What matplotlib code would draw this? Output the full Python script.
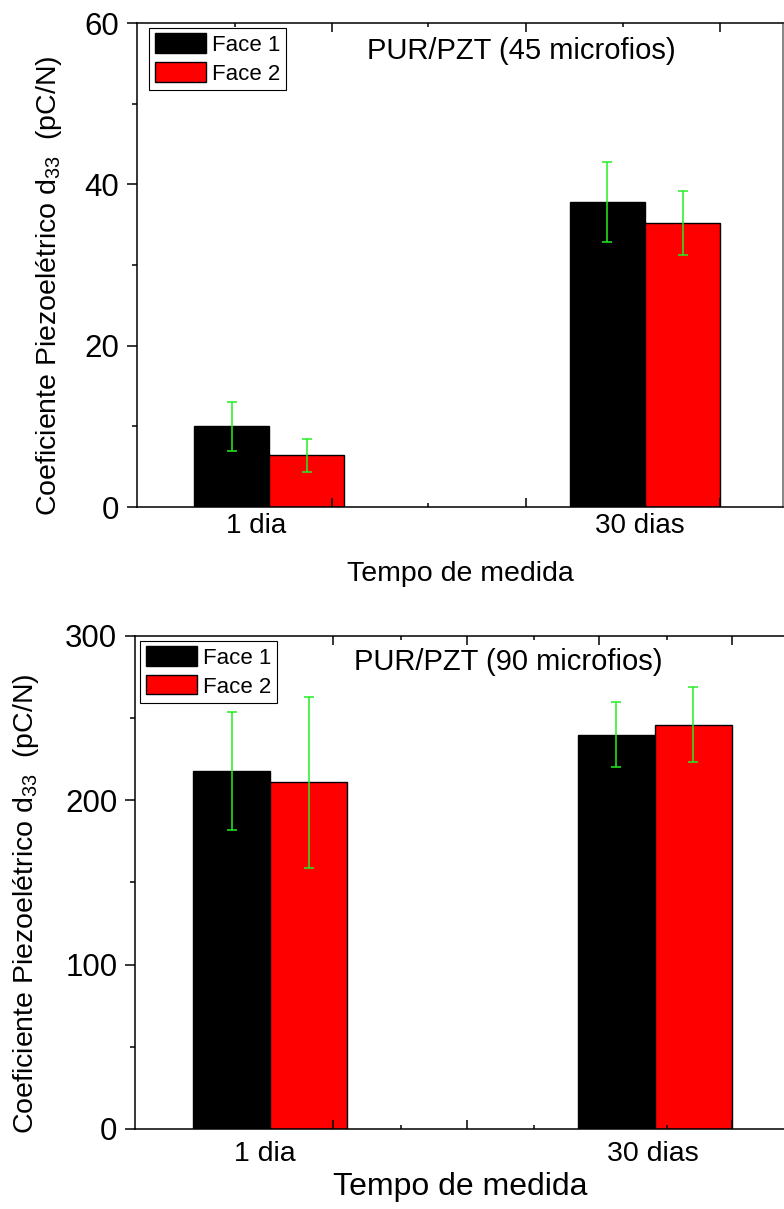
import matplotlib
matplotlib.use('Agg')
from matplotlib import pyplot as plt

plt.rcParams['font.family'] = ['Liberation Sans', 'DejaVu Sans']
plt.rcParams['mathtext.fontset'] = 'custom'
plt.rcParams['mathtext.rm'] = 'Liberation Sans'
plt.rcParams['mathtext.it'] = 'Liberation Sans:italic'

# d33 medido nas duas faces, 1 dia e 30 dias depois da polarizacao
tempos = ['1 dia', '30 dias']
series = ['Face 1', 'Face 2']

d33_45_face1 = [10.0, 37.8]
d33_45_face2 = [6.4, 35.2]
err_45_face1 = [3.0, 5.0]
err_45_face2 = [2.0, 4.0]

d33_90_face1 = [218.0, 240.0]
d33_90_face2 = [211.0, 246.0]
err_90_face1 = [36.0, 19.5]
err_90_face2 = [52.0, 23.0]

amostras = ['PUR/PZT (45 microfios)', 'PUR/PZT (90 microfios)']
ylabel = 'Coeficiente Piezoelétrico d$_{\\mathrm{33}}$  (pC/N)'
xlabel = 'Tempo de medida'

fig = plt.figure(figsize=(7.84, 12.09), dpi=100)
ax1 = fig.add_axes([0.1747, 0.5806, 0.8240, 0.4003])
ax2 = fig.add_axes([0.1722, 0.0662, 0.8290, 0.4078])

w = 0.2
pos = [1, 2]


def painel(ax, f1, f2, e1, e2, titulo, ymax, ystep, xlim, xmaj, xmin_, lab_x,
           lab_pad, lab_size, xl_size, title_xy, leg_xy, ylab_xy):
    b1 = ax.bar([p - w / 2 for p in pos], f1, w, color='black', edgecolor='black', linewidth=1.0, label=series[0])
    b2 = ax.bar([p + w / 2 for p in pos], f2, w, color='red', edgecolor='black', linewidth=1.0, label=series[1])
    ax.errorbar([p - w / 2 for p in pos], f1, yerr=e1, fmt='none', ecolor='#22ee22', elinewidth=1.1, capsize=3.4, capthick=1.1)
    ax.errorbar([p + w / 2 for p in pos], f2, yerr=e2, fmt='none', ecolor='#22ee22', elinewidth=1.1, capsize=3.4, capthick=1.1)

    ax.set_xlim(*xlim)
    ax.set_ylim(0, ymax)
    ax.set_yticks(range(0, ymax + 1, ystep))
    ax.set_yticks(range(ystep // 2, ymax, ystep), minor=True)
    ax.set_xticks(xmaj)
    ax.set_xticks(xmin_, minor=True)
    ax.set_xticklabels([])
    ax.tick_params(axis='y', which='major', direction='out', length=7.2, width=1.1, labelsize=22.5, pad=5.5, right=False)
    ax.tick_params(axis='y', which='minor', direction='out', length=3.3, width=1.1, right=False)
    ax.tick_params(axis='x', which='major', direction='in', length=6.5, width=1.1, top=True)
    ax.tick_params(axis='x', which='minor', direction='in', length=3.0, width=1.1, top=True)
    for s in ax.spines.values():
        s.set_linewidth(1.1)
    ax.spines['right'].set_color('#666666')

    sec = ax.secondary_xaxis('bottom')
    sec.set_xticks(lab_x, labels=tempos)
    sec.tick_params(length=0, pad=lab_pad, labelsize=lab_size)
    sec.spines['bottom'].set_visible(False)
    sec.set_xlabel(xlabel, fontsize=xl_size)

    ax.set_ylabel(ylabel, fontsize=20.5)
    ax.yaxis.set_label_coords(*ylab_xy)

    ax.text(title_xy[0], title_xy[1], titulo, transform=ax.transAxes, ha='center', va='center', fontsize=21)

    leg = ax.legend(handles=[b1, b2], loc='upper left', bbox_to_anchor=leg_xy, borderaxespad=0,
                    fontsize=16, handlelength=2.3, handleheight=0.95, handletextpad=0.3,
                    labelspacing=0.3, borderpad=0.25, fancybox=False, framealpha=1, edgecolor='black')
    leg.get_frame().set_linewidth(0.8)
    return sec


sec1 = painel(ax1, d33_45_face1, d33_45_face2, err_45_face1, err_45_face2, amostras[0],
              60, 20, (0.648, 2.367),
              [1.1676, 1.6835, 2.199], [0.9096, 1.4229, 1.9415],
              [0.965, 1.986], 4, 20, 20.5,
              (0.595, 0.942), (0.0186, 0.99), (-0.113, 0.457))
sec1.xaxis.labelpad = 16

sec2 = painel(ax2, d33_90_face1, d33_90_face2, err_90_face1, err_90_face2, amostras[1],
              300, 100, (0.648, 2.339),
              [1.164, 1.513, 1.8555, 2.2005], [1.3398, 1.685, 2.031],
              [0.987, 1.996], 9, 20.5, 23,
              (0.574, 0.947), (0.0077, 0.99), (-0.145, 0.456))
sec2.xaxis.labelpad = 3

fig.savefig('out.png', dpi=100)
